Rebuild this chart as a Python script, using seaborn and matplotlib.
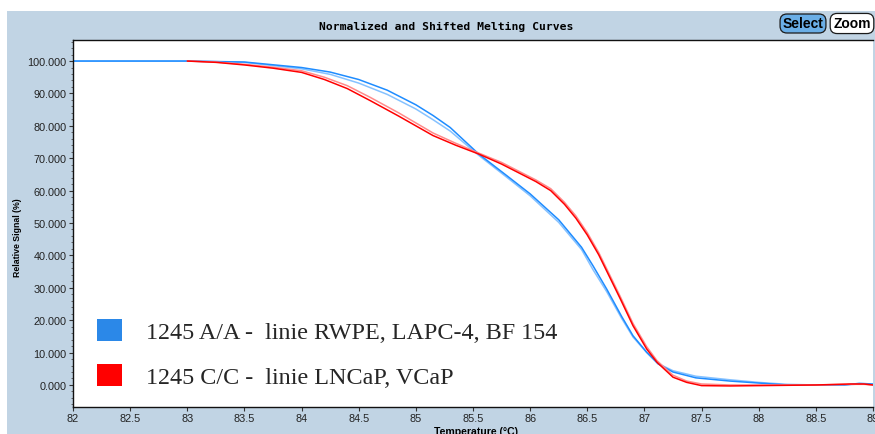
import matplotlib
matplotlib.use("Agg")
import matplotlib.pyplot as plt
from matplotlib.patches import Rectangle, Patch
from matplotlib.ticker import MultipleLocator, FuncFormatter
import pandas as pd
import seaborn as sns

# ---- melting curve data (temperature in °C, relative signal in %) ----
temp_aa = [82.0, 83.0, 83.5, 84.0, 84.25, 84.5, 84.75, 85.0, 85.15, 85.3, 85.55,
           85.8, 86.0, 86.25, 86.45, 86.55, 86.67, 86.8, 86.9, 87.02, 87.12,
           87.25, 87.45, 87.75, 88.0, 88.25, 88.5, 88.75, 88.88, 89.0]
signal_aa_1 = [100, 100, 99.7, 98.0, 96.6, 94.3, 91.0, 86.5, 83.2, 79.5, 71.3,
               64.5, 59.0, 51.0, 42.5, 36.8, 29.6, 21.2, 15.2, 10.1, 6.5,
               4.0, 2.2, 1.2, 0.6, 0.0, 0.0, 0.0, 0.5, 0.3]
signal_aa_2 = [100, 100, 99.6, 97.6, 95.9, 93.2, 89.7, 85.2, 81.9, 78.4, 70.9,
               64.0, 58.4, 50.2, 41.8, 35.6, 28.8, 20.6, 14.8, 10.0, 6.6,
               4.4, 2.7, 1.6, 0.8, 0.2, 0.0, 0.0, 0.3, 0.2]

temp_cc = [83.0, 83.25, 83.5, 83.75, 84.0, 84.2, 84.4, 84.6, 84.85, 85.15, 85.35,
           85.55, 85.75, 85.9, 86.05, 86.18, 86.3, 86.4, 86.5, 86.6, 86.7, 86.79,
           86.9, 87.02, 87.11, 87.25, 87.37, 87.5, 87.75, 88.0, 88.5, 88.8,
           88.92, 89.0]
signal_cc_1 = [100, 99.6, 98.8, 97.8, 96.5, 94.3, 91.5, 87.8, 83.0, 77.0, 74.0,
               71.3, 68.2, 65.5, 62.8, 60.0, 55.8, 51.5, 46.3, 40.2, 33.0, 26.5,
               18.3, 11.1, 7.0, 2.4, 0.8, -0.2, -0.3, -0.2, 0.0, 0.3,
               0.3, 0.0]
signal_cc_2 = [100, 99.7, 99.0, 98.1, 97.0, 95.0, 92.4, 88.8, 84.0, 77.8, 74.6,
               71.6, 68.7, 66.0, 63.3, 60.6, 56.4, 52.2, 47.0, 40.9, 33.7, 27.2,
               19.0, 11.8, 7.5, 3.0, 1.2, 0.3, 0.0, 0.0, 0.0, 0.2,
               0.2, 0.0]

legend_labels = ["1245 A/A -  linie RWPE, LAPC-4, BF 154",
                 "1245 C/C -  linie LNCaP, VCaP"]
x_ticks = [82, 82.5, 83, 83.5, 84, 84.5, 85, 85.5, 86, 86.5, 87, 87.5, 88, 88.5, 89]
y_ticks = [0, 10, 20, 30, 40, 50, 60, 70, 80, 90, 100]

curves = {
    "A/A rep 1": (temp_aa, signal_aa_1),
    "A/A rep 2": (temp_aa, signal_aa_2),
    "C/C rep 1": (temp_cc, signal_cc_1),
    "C/C rep 2": (temp_cc, signal_cc_2),
}
palette = {
    "A/A rep 2": "#86C2FF",
    "A/A rep 1": "#1E8CFF",
    "C/C rep 2": "#FF8A8A",
    "C/C rep 1": "#FF0000",
}
df = pd.concat(
    [pd.DataFrame({"Temperature": t, "Signal": s, "Curve": name})
     for name, (t, s) in curves.items()],
    ignore_index=True,
)

sns.set_style("ticks")
plt.rcParams["font.family"] = ["Liberation Sans", "DejaVu Sans"]

W, H = 875, 435
fig = plt.figure(figsize=(W / 100, H / 100), dpi=100, facecolor="white")

# window frame behind the plot
fig.patches.append(Rectangle((7 / W, 0), 1, (H - 12) / H, transform=fig.transFigure,
                             facecolor="#C1D4E4", edgecolor="none", zorder=-10))

ax = fig.add_axes([73 / W, 27 / H, 800 / W, 367 / H])
ax.set_zorder(1)
ax.set_facecolor("white")

sns.lineplot(data=df, x="Temperature", y="Signal", hue="Curve", units="Curve",
             estimator=None, palette=palette, linewidth=1.1, legend=False, ax=ax,
             hue_order=["A/A rep 2", "A/A rep 1", "C/C rep 2", "C/C rep 1"])

ax.set_xlim(82, 89)
ax.set_ylim(-6.8, 106.5)
ax.set_xticks(x_ticks)
ax.set_yticks(y_ticks)
ax.yaxis.set_minor_locator(MultipleLocator(2))
ax.xaxis.set_major_formatter(FuncFormatter(lambda v, p: f"{v:g}"))
ax.yaxis.set_major_formatter(FuncFormatter(lambda v, p: f"{v:.3f}"))
ax.tick_params(axis="both", which="major", length=3, width=0.8, color="#333333",
               labelsize=7.8, labelcolor="#222222", pad=1.5, direction="out")
ax.tick_params(axis="y", which="minor", length=1.8, width=0.6, color="#555555")
ax.set_xlabel("")
ax.set_ylabel("")
for side in ("left", "bottom", "top"):
    ax.spines[side].set_color("#111111")
    ax.spines[side].set_linewidth(1.0)
ax.spines["right"].set_visible(False)

# title bar and buttons
fig.text(446 / W, 1 - 26.5 / H, "Normalized and Shifted Melting Curves",
         family="DejaVu Sans Mono", weight="bold", size=8.2,
         ha="center", va="center", color="black")
fig.text(803 / W, 1 - 24.5 / H, "Select", weight="bold", size=10,
         ha="center", va="center", color="black",
         bbox=dict(boxstyle="round,pad=0.18,rounding_size=0.5",
                   facecolor="#6AAEE6", edgecolor="#1A1A1A", linewidth=0.9))
fig.text(852 / W, 1 - 24.5 / H, "Zoom", weight="bold", size=10,
         ha="center", va="center", color="black",
         bbox=dict(boxstyle="round,pad=0.22,rounding_size=0.5",
                   facecolor="white", edgecolor="#1A1A1A", linewidth=0.9))

# axis titles
fig.text(18 / W, 1 - 238 / H, "Relative Signal (%)", rotation=90, weight="bold",
         size=6.3, ha="center", va="center", color="black")
fig.text(476 / W, 0, "Temperature (°C)", weight="bold", size=7.6,
         ha="center", va="baseline", color="black")

# legend with solid colour squares
fs = 17.4
fs_px = fs * 100 / 72
handles = [Patch(facecolor="#2B88E8", edgecolor="none"),
           Patch(facecolor="#FF0000", edgecolor="none")]
ax.legend(handles, legend_labels, loc="upper left",
          bbox_to_anchor=(97 / W, 1 - 320 / H), bbox_transform=fig.transFigure,
          frameon=False, borderpad=0, borderaxespad=0,
          handlelength=25 / fs_px, handleheight=25 / fs_px,
          handletextpad=24 / fs_px, labelspacing=0.86,
          prop={"family": "Liberation Serif", "size": fs})

fig.savefig("out.png", dpi=100, facecolor="white")
